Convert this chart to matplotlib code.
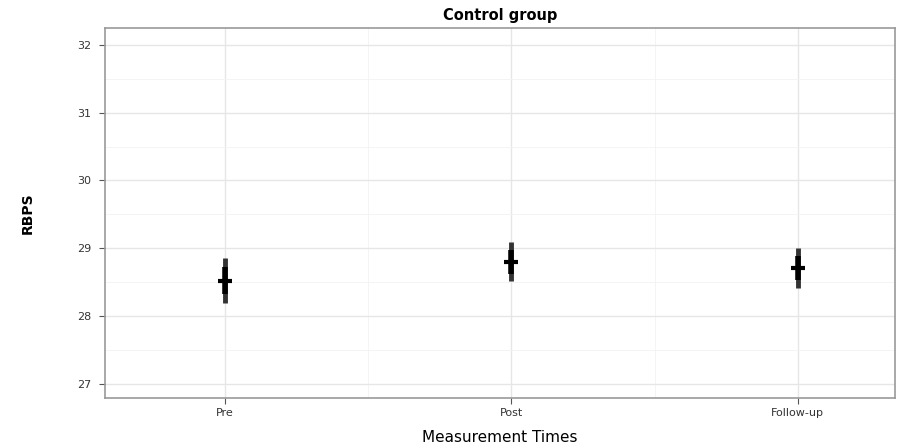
import matplotlib
matplotlib.use("Agg")
import matplotlib.pyplot as plt
from matplotlib.ticker import MultipleLocator

categories = ["Pre", "Post", "Follow-up"]
means = [28.52, 28.80, 28.71]
errors = [0.33, 0.29, 0.30]
yticks = [27, 28, 29, 30, 31, 32]

fig = plt.figure(figsize=(9.1, 4.46), dpi=100)
ax = fig.add_axes([105/910, 48/446, (895-105)/910, (398-28)/446])

x = list(range(len(categories)))
ax.errorbar(x, means, yerr=errors, fmt='none', ecolor='#333333', elinewidth=3.5, capsize=0, zorder=3)
ax.errorbar(x, means, yerr=[e*0.6 for e in errors], fmt='none', ecolor='black', elinewidth=4, capsize=0, zorder=3)
ax.scatter(x, means, marker='_', s=110, color='black', linewidths=3, zorder=4)

ax.set_xlim(-0.42, 2.34)
ax.set_ylim(26.79, 32.25)
ax.set_xticks(x)
ax.set_xticklabels(categories, fontsize=8, color='#333333')
ax.set_yticks(yticks)
ax.set_yticklabels([str(v) for v in yticks], fontsize=8, color='#333333')
ax.xaxis.set_minor_locator(MultipleLocator(0.5))
ax.yaxis.set_minor_locator(MultipleLocator(0.5))
ax.grid(True, which='major', color='#e6e6e6', linewidth=1.0)
ax.grid(True, which='minor', color='#f2f2f2', linewidth=0.6)
ax.set_axisbelow(True)
ax.tick_params(which='minor', length=0)
ax.tick_params(axis='y', which='major', pad=6)
ax.tick_params(which='major', length=4, color='#555555')
for s in ax.spines.values():
    s.set_color('#999999')
    s.set_linewidth(1.2)

ax.set_title("Control group", fontsize=10.5, fontweight='heavy', pad=6)
ax.set_xlabel("Measurement Times", fontsize=11, labelpad=8)
ax.set_ylabel("RBPS", fontsize=10, labelpad=30, fontweight='bold')

fig.savefig("out.png", dpi=100)
